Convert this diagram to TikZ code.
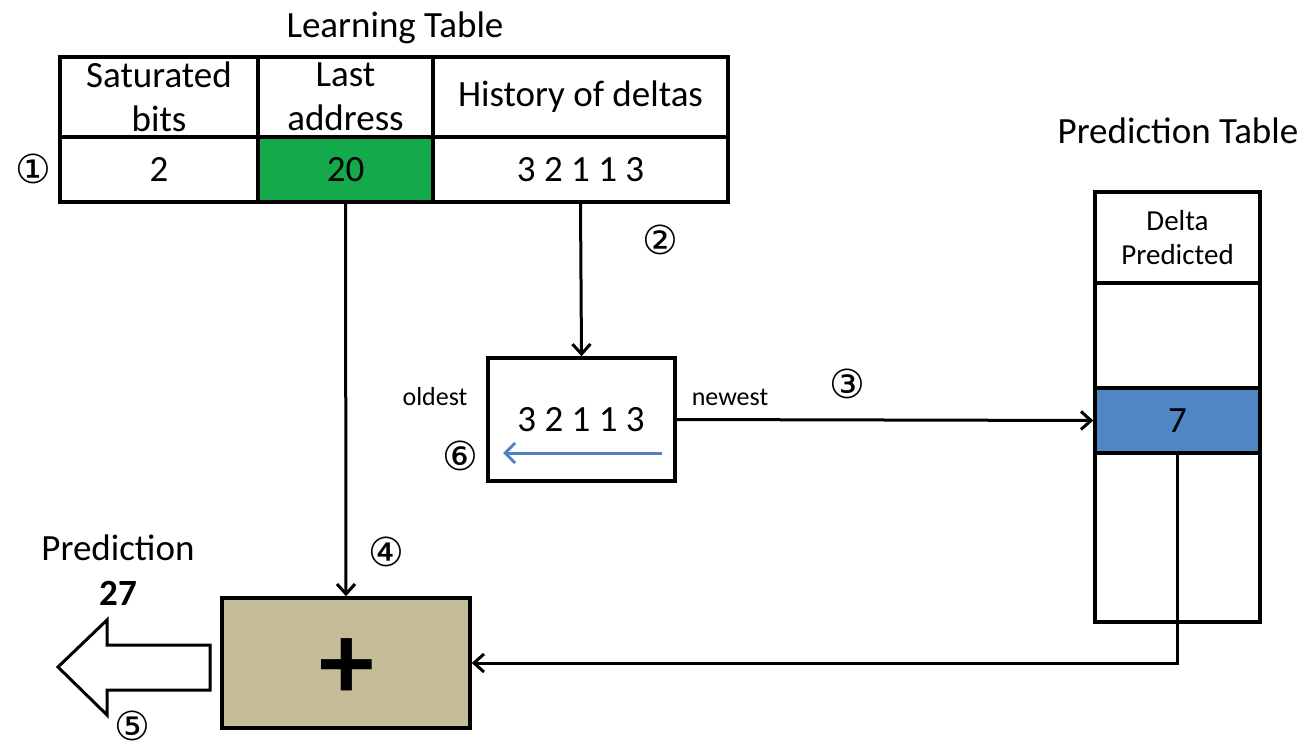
\documentclass[tikz,border=0pt]{standalone}
\usepackage{fontspec}
\setmainfont{Carlito}
\newfontfamily\circfont{DejaVu Sans}
\usetikzlibrary{arrows.meta}
\definecolor{cellgreen}{HTML}{14A94B}
\definecolor{cellblue}{HTML}{4F86C6}
\definecolor{khaki}{HTML}{C4BD97}
\definecolor{arrowblue}{HTML}{4F81BD}
\tikzset{
  cell/.style={draw, line width=3.5pt, inner sep=0pt, align=center, font=\fontsize{37}{44}\selectfont},
  arr/.style={line width=3pt, -{Straight Barb[length=10pt,width=18pt,line width=3pt]}},
  circnum/.style={font=\circfont\fontsize{40}{42}\selectfont, inner sep=0pt},
  lbl/.style={font=\fontsize{37}{44}\selectfont, inner sep=0pt},
}
\begin{document}
\begin{tikzpicture}[x=1pt,y=-1pt]
\useasboundingbox (0,0) rectangle (1302,749);
% Learning table
\node[lbl] (lt) at (395,28) {Learning Table};
\node[cell, minimum width=198pt, minimum height=80pt] (c11) at (159,97) {Saturated\\bits};
\node[cell, minimum width=175pt, minimum height=80pt] (c12) at (345.5,97) {Last\\address};
\node[cell, minimum width=295pt, minimum height=80pt] (c13) at (580.5,97) {History of deltas};
\node[cell, minimum width=198pt, minimum height=65pt] (c21) at (159,169.5) {2};
\node[cell, fill=cellgreen, minimum width=175pt, minimum height=65pt] (c22) at (345.5,169.5) {20};
\node[cell, minimum width=295pt, minimum height=65pt] (c23) at (580.5,169.5) {3 2 1 1 3};
\node[circnum] (n1) at (33,169) {①};
% Prediction table
\node[lbl] (ptt) at (1178,131) {Prediction Table};
\node[cell, font=\fontsize{29}{34}\selectfont, minimum width=165pt, minimum height=91pt] (p0) at (1177.5,237.5) {Delta\\Predicted};
\node[cell, minimum width=165pt, minimum height=105pt] (p1) at (1177.5,335.5) {};
\node[cell, fill=cellblue, minimum width=165pt, minimum height=65pt] (p2) at (1177.5,420.5) {7};
\node[cell, minimum width=165pt, minimum height=169pt] (p3) at (1177.5,537.5) {};
% shift register
\node[cell, minimum width=187pt, minimum height=123pt] (sh) at (581.5,419.5) {};
\node[lbl] (shtxt) at (581,420) {3 2 1 1 3};
\coordinate (bs) at (662,453);
\coordinate (be) at (503,453);
\draw[line width=3pt, arrowblue, -{Straight Barb[length=10pt,width=20pt,line width=3pt]}] (bs) -- (be);
\node[font=\fontsize{26}{30}\selectfont, inner sep=0pt] (old) at (435,397) {oldest};
\node[font=\fontsize{26}{30}\selectfont, inner sep=0pt] (new) at (730,397) {newest};
\node[circnum] (n6) at (460,456) {⑥};
% plus box
\node[cell, fill=khaki, minimum width=248pt, minimum height=130pt] (plus) at (346,663) {};
\node[font=\fontsize{110}{110}\selectfont\bfseries, inner sep=0pt] (plussign) at (347,669) {+};
% connectors
\draw[arr] (c22.south) -- (plus.north);
\draw[arr] (c23.south) -- (sh.north);
\draw[arr] (sh.east) -- (p2.west);
\draw[arr] (p2.south) |- (plus.east);
\node[circnum] (n2) at (660,240) {②};
\node[circnum] (n3) at (847,384) {③};
\node[circnum] (n4) at (386,552) {④};
% output arrow
\draw[line width=3pt, fill=white, line join=miter]
  (210,645) -- (107,645) -- (107,620) -- (58,667) -- (107,715) -- (107,690) -- (210,690) -- cycle;
\node[lbl] (pred) at (118,548) {Prediction};
\node[font=\fontsize{37}{40}\selectfont\bfseries, inner sep=0pt] (val) at (118,593) {27};
\node[circnum] (n5) at (132,726) {⑤};
\end{tikzpicture}
\end{document}
